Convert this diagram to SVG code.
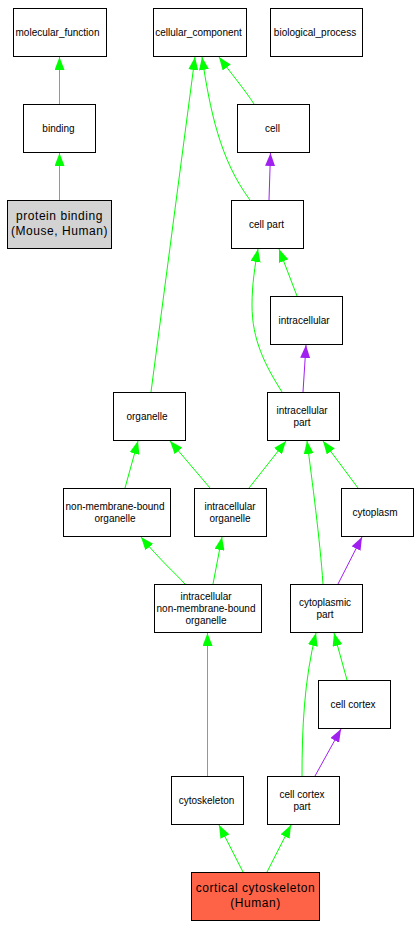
<svg xmlns="http://www.w3.org/2000/svg" width="420" height="927" viewBox="0 0 420 927">
<style>
.n rect{fill:#fff;stroke:#000;stroke-width:1}
.n text{font-family:"Liberation Sans",Arial,sans-serif;font-size:10px;text-anchor:middle;fill:#000}
.big text{font-size:12px;letter-spacing:0.55px}
.e path{fill:none;stroke-width:1}
.g{stroke:#00ff00}
.p{stroke:#a020f0}
.g{marker-end:url(#ag)}
.p{marker-end:url(#ap)}
</style>
<defs>
<marker id="ag" markerUnits="userSpaceOnUse" viewBox="0 0 13 10" markerWidth="13" markerHeight="10" refX="13" refY="5" orient="auto"><path d="M0,0 L13,5 L0,10 z" fill="#00ff00"/></marker>
<marker id="ap" markerUnits="userSpaceOnUse" viewBox="0 0 13 10" markerWidth="13" markerHeight="10" refX="13" refY="5" orient="auto"><path d="M0,0 L13,5 L0,10 z" fill="#a020f0"/></marker>
</defs>
<rect width="420" height="927" fill="#fff"/>
<g id="connectors" class="e">
<path class="g" d="M59.5,104 L59.5,57"/>
<path class="g" d="M59.5,200 L59.5,153"/>
<path class="g" d="M151,392 L195,57"/>
<path class="g" d="M250,200 C220,160 210,110 202,57"/>
<path class="g" d="M254,104 C245,90 230,72 219,57"/>
<path class="p" d="M269,200 L270.5,153"/>
<path class="g" d="M282,392 C265,365 252,340 252,305 C252,285 255,265 258,249"/>
<path class="g" d="M297,296 L279,249"/>
<path class="p" d="M303,392 L306,345"/>
<path class="g" d="M125,488 L138,441"/>
<path class="g" d="M210,488 L170,441"/>
<path class="g" d="M249,488 L286,441"/>
<path class="g" d="M323,584 C320,540 312,480 307,441"/>
<path class="g" d="M358,488 L323,441"/>
<path class="g" d="M185,584 C175,573 160,560 141,537"/>
<path class="g" d="M213,584 L222,537"/>
<path class="p" d="M338,584 L362,537"/>
<path class="g" d="M207.5,776 L207.5,633"/>
<path class="g" d="M302,776 C302,730 304,680 316,633"/>
<path class="g" d="M347,680 L334,633"/>
<path class="p" d="M315,776 L341,729"/>
<path class="g" d="M243,872 L219,825"/>
<path class="g" d="M267,872 L291,825"/>
</g>
<g id="molecular_function" class="n"><rect x="13.5" y="8.5" width="93" height="48"/><text x="57.5" y="36">molecular_function</text></g>
<g id="cellular_component" class="n"><rect x="153.5" y="8.5" width="93" height="48"/><text x="198.5" y="36">cellular_component</text></g>
<g id="biological_process" class="n"><rect x="270.5" y="8.5" width="92" height="48"/><text x="315" y="36">biological_process</text></g>
<g id="binding" class="n"><rect x="23.5" y="104.5" width="72" height="48"/><text x="58.5" y="132">binding</text></g>
<g id="protein_binding" class="n big"><rect x="7.5" y="200.5" width="104" height="48" style="fill:#d3d3d3"/><text x="59.5" y="220">protein binding</text><text x="59.5" y="235">(Mouse, Human)</text></g>
<g id="cell" class="n"><rect x="237.5" y="104.5" width="72" height="48"/><text x="272.5" y="132">cell</text></g>
<g id="cell_part" class="n"><rect x="231.5" y="200.5" width="72" height="48"/><text x="266.5" y="228">cell part</text></g>
<g id="intracellular" class="n"><rect x="270.5" y="296.5" width="72" height="48"/><text x="304" y="324">intracellular</text></g>
<g id="organelle" class="n"><rect x="113.5" y="392.5" width="72" height="48"/><text x="147" y="420">organelle</text></g>
<g id="intracellular_part" class="n"><rect x="267.5" y="392.5" width="72" height="48"/><text x="302" y="414">intracellular</text><text x="302" y="426">part</text></g>
<g id="non_membrane_bound_organelle" class="n"><rect x="63.5" y="488.5" width="107" height="48"/><text x="115" y="510">non-membrane-bound</text><text x="115" y="522">organelle</text></g>
<g id="intracellular_organelle" class="n"><rect x="194.5" y="488.5" width="72" height="48"/><text x="230" y="510">intracellular</text><text x="230" y="522">organelle</text></g>
<g id="cytoplasm" class="n"><rect x="341.5" y="488.5" width="72" height="48"/><text x="375" y="516">cytoplasm</text></g>
<g id="intracellular_nmbo" class="n"><rect x="154.5" y="584.5" width="107" height="48"/><text x="206" y="600">intracellular</text><text x="206" y="612">non-membrane-bound</text><text x="206" y="624">organelle</text></g>
<g id="cytoplasmic_part" class="n"><rect x="290.5" y="584.5" width="72" height="48"/><text x="325" y="606">cytoplasmic</text><text x="325" y="618">part</text></g>
<g id="cell_cortex" class="n"><rect x="318.5" y="680.5" width="72" height="48"/><text x="353" y="708">cell cortex</text></g>
<g id="cytoskeleton" class="n"><rect x="171.5" y="776.5" width="72" height="48"/><text x="206.5" y="804">cytoskeleton</text></g>
<g id="cell_cortex_part" class="n"><rect x="267.5" y="776.5" width="72" height="48"/><text x="302" y="798">cell cortex</text><text x="302" y="810">part</text></g>
<g id="cortical_cytoskeleton" class="n big"><rect x="191.5" y="872.5" width="128" height="48" style="fill:#ff6347"/><text x="255.5" y="892">cortical cytoskeleton</text><text x="255.5" y="907">(Human)</text></g>
</svg>
